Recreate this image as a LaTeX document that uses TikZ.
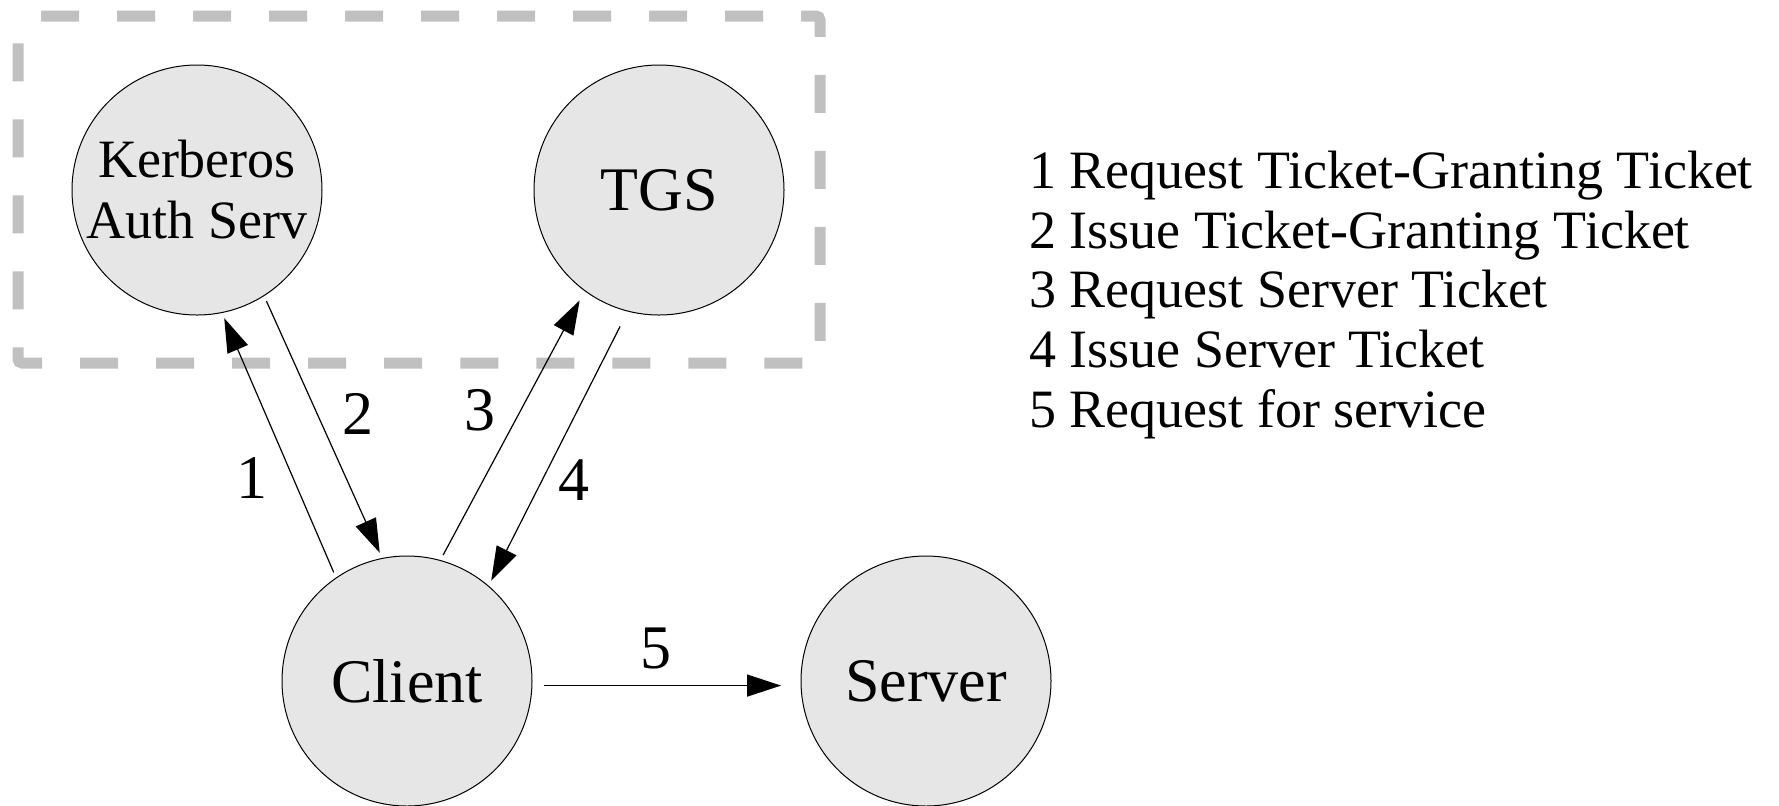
\documentclass[tikz,border=0pt]{standalone}
\usepackage{fontspec}
\setmainfont{Liberation Serif}
\usetikzlibrary{arrows.meta}
\definecolor{realmgray}{RGB}{192,192,192}
\definecolor{hostgray}{RGB}{230,230,230}

\begin{document}
\begin{tikzpicture}[x=0.5pt, y=-0.5pt,
    host/.style={draw, circle, fill=hostgray, line width=0.5pt, minimum size=125pt,
        inner sep=0pt, outer sep=3pt, font=\fontsize{31}{36}\selectfont},
    msg/.style={-{Triangle[length=17pt, width=11pt]}, line width=0.6pt},
    num/.style={inner sep=0pt, font=\fontsize{31}{36}\selectfont}]
    \useasboundingbox (0,0) rectangle (1779,805);

    % kerberos realm
    \draw[realmgray, line width=5.5pt, dash pattern=on 19pt off 19pt, dash phase=28.5pt,
        rounded corners=2pt] (18,16) -- (820,16) -- (820,363) -- (18,363) -- cycle;

    % hosts
    \node[host, align=center, font=\fontsize{27}{30.5}\selectfont] (kas) at (197,190) {Kerberos\\Auth Serv};
    \node[host] (tgs) at (659,190) {TGS};
    \node[host] (client) at (407,681) {Client};
    \node[host] (server) at (926,681) {Server};

    % messages
    \draw[msg] (client.124) -- node[num, pos=0.37, left=12.5pt] (m1) {1} (kas.-78);
    \draw[msg] (kas.-58) -- node[num, pos=0.45, right=12pt] (m2) {2} (client.102);
    \draw[msg, shorten >=2.5pt] (client.74) -- node[num, pos=0.56, left=12.5pt] (m3) {3} (tgs.-126);
    \draw[msg, shorten <=5.5pt] (tgs.-105) -- node[num, pos=0.62, right=8pt] (m4) {4} (client.50);
    \draw[msg, shorten <=3pt, shorten >=7pt] (client.-2) -- node[num, pos=0.46, above=8pt] (m5) {5} (server.182);

    % legend
    \foreach \n/\txt in {1/Request Ticket-Granting Ticket, 2/Issue Ticket-Granting Ticket,
        3/Request Server Ticket, 4/Issue Server Ticket, 5/Request for service} {
        \node[anchor=base west, inner sep=0pt, font=\fontsize{27}{30}\selectfont] (leg\n)
            at (1029, 128.8+59.7*\n) {\n\ \txt};
    }
\end{tikzpicture}
\end{document}
